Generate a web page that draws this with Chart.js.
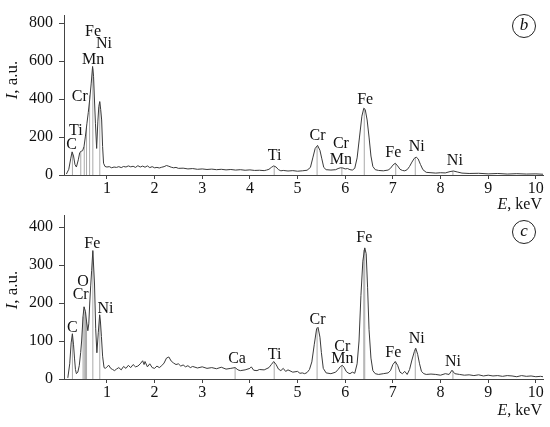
<!DOCTYPE html>
<html>
<head>
<meta charset="utf-8">
<script src="https://cdn.jsdelivr.net/npm/chart.js@4.4.0/dist/chart.umd.min.js"></script>
<style>
  body { margin: 0; background: #fff; }
  #wrap { position: relative; width: 550px; height: 427px; }
  canvas { position: absolute; left: 0; }
  #chartB { top: 0; }
  #chartC { top: 200px; }
</style>
</head>
<body>
<div id="wrap">
  <canvas id="chartB" width="550" height="212"></canvas>
  <canvas id="chartC" width="550" height="227"></canvas>
</div>
<script>
// energy axis ticks (keV)
const xTicks = [1, 2, 3, 4, 5, 6, 7, 8, 9, 10];
const yTicksB = [0, 200, 400, 600, 800];
const yTicksC = [0, 100, 200, 300, 400];

// spectrum (b)
const energyB = [0.15, 0.20, 0.24, 0.27, 0.30, 0.33, 0.36, 0.40, 0.43, 0.46, 0.49, 0.52, 0.55, 0.58, 0.61, 0.64, 0.67, 0.70, 0.72, 0.74, 0.76, 0.785, 0.81, 0.83, 0.85, 0.87, 0.89, 0.91, 0.93, 0.96, 1.00,
  1.05, 1.1, 1.15, 1.2, 1.25, 1.3, 1.35, 1.4, 1.45, 1.5, 1.55, 1.6, 1.65, 1.7, 1.75, 1.8, 1.85, 1.9, 1.95, 2.0, 2.05, 2.1, 2.15, 2.2, 2.25, 2.3, 2.35, 2.4, 2.45, 2.5,
  2.6, 2.7, 2.8, 2.9, 3.0, 3.1, 3.2, 3.3, 3.4, 3.5, 3.6, 3.7, 3.8, 3.9, 4.0, 4.1, 4.2, 4.3, 4.35, 4.4, 4.45, 4.5, 4.55, 4.6, 4.65, 4.7, 4.8, 4.9, 5.0, 5.1, 5.2,
  5.27, 5.32, 5.37, 5.42, 5.47, 5.51, 5.55, 5.6, 5.7, 5.8, 5.85, 5.9, 5.95, 6.0, 6.05, 6.1, 6.15, 6.2, 6.25, 6.3, 6.35, 6.39, 6.42, 6.46, 6.5, 6.54, 6.58, 6.63,
  6.7, 6.8, 6.9, 6.95, 7.0, 7.05, 7.1, 7.15, 7.2, 7.25, 7.3, 7.35, 7.4, 7.45, 7.49, 7.53, 7.58, 7.63, 7.7, 7.8, 7.9, 8.0, 8.1, 8.2, 8.27, 8.35, 8.45, 8.6, 8.8,
  9.0, 9.2, 9.4, 9.6, 9.8, 10.0, 10.15];
const countsB = [5, 30, 85, 122, 100, 55, 42, 80, 118, 125, 128, 150, 205, 270, 330, 400, 480, 572, 520, 390, 270, 140, 280, 360, 387, 345, 290, 150, 62, 45, 42,
  44, 38, 42, 40, 44, 39, 45, 42, 48, 43, 46, 40, 49, 42, 47, 41, 48, 39, 44, 38, 40, 37, 41, 44, 50, 46, 41, 38, 40, 35,
  36, 32, 34, 30, 32, 29, 31, 28, 30, 27, 29, 26, 28, 25, 27, 24, 25, 23, 26, 30, 40, 48, 42, 28, 22, 24, 21, 23, 20, 22, 25,
  40, 90, 140, 156, 130, 85, 40, 28, 26, 28, 34, 38, 37, 32, 34, 28, 26, 35, 90, 200, 310, 352, 345, 290, 200, 100, 45, 28,
  24, 22, 26, 35, 52, 62, 48, 30, 24, 22, 28, 45, 68, 88, 94, 85, 55, 28, 14, 12, 10, 12, 11, 18, 21, 16, 10, 8, 9,
  6, 8, 5, 7, 5, 6, 4];

// spectrum (c)
const energyC = [0.18, 0.22, 0.25, 0.276, 0.30, 0.32, 0.34, 0.36, 0.39, 0.42, 0.45, 0.47, 0.50, 0.52, 0.55, 0.575, 0.60, 0.62, 0.64, 0.66, 0.68, 0.705, 0.72, 0.74, 0.765, 0.79, 0.82, 0.848, 0.865, 0.885, 0.91, 0.94, 0.97, 1.0,
  1.04, 1.08, 1.12, 1.16, 1.2, 1.25, 1.3, 1.35, 1.4, 1.45, 1.5, 1.55, 1.6, 1.65, 1.7, 1.75, 1.78, 1.8, 1.85, 1.9, 1.95, 2.0, 2.05, 2.1, 2.15, 2.2, 2.25, 2.3, 2.35, 2.4, 2.45, 2.5,
  2.55, 2.6, 2.65, 2.7, 2.75, 2.8, 2.9, 3.0, 3.1, 3.2, 3.3, 3.4, 3.5, 3.6, 3.69, 3.75, 3.8, 3.9, 4.0, 4.03, 4.08, 4.15, 4.2, 4.3, 4.4, 4.45, 4.5, 4.55, 4.6, 4.65, 4.7, 4.75, 4.8, 4.9,
  5.0, 5.05, 5.1, 5.15, 5.2, 5.25, 5.3, 5.35, 5.4, 5.43, 5.47, 5.5, 5.54, 5.6, 5.7, 5.8, 5.85, 5.9, 5.94, 5.98, 6.02, 6.06, 6.1, 6.15, 6.2, 6.25, 6.29, 6.33, 6.37, 6.41, 6.44, 6.47, 6.5, 6.54, 6.58, 6.63,
  6.7, 6.8, 6.9, 6.95, 7.0, 7.05, 7.1, 7.15, 7.2, 7.25, 7.3, 7.35, 7.4, 7.45, 7.48, 7.52, 7.56, 7.6, 7.65, 7.7, 7.8, 7.9, 8.0, 8.1, 8.18, 8.24, 8.3, 8.4, 8.5, 8.6, 8.7, 8.8, 8.9,
  9.0, 9.1, 9.2, 9.3, 9.4, 9.5, 9.6, 9.7, 9.8, 9.9, 10.0, 10.1, 10.15];
const countsC = [3, 40, 95, 119, 90, 55, 25, 14, 18, 35, 70, 100, 165, 190, 178, 150, 127, 145, 200, 245, 285, 338, 300, 250, 132, 69, 123, 169, 150, 112, 60, 30, 28, 32,
  36, 28, 25, 22, 26, 30, 24, 33, 28, 36, 30, 38, 32, 34, 40, 48, 38, 46, 32, 40, 30, 28, 34, 30, 35, 42, 55, 58, 47, 42, 38, 40,
  34, 37, 32, 35, 30, 33, 29, 32, 28, 30, 27, 31, 26, 28, 30, 24, 22, 24, 28, 32, 23, 22, 25, 24, 30, 38, 46, 38, 26, 22, 28, 20, 24, 18,
  20, 15, 16, 14, 17, 25, 45, 90, 132, 136, 110, 70, 28, 16, 14, 18, 25, 33, 36, 30, 20, 16, 14, 18, 15, 40, 100, 220, 310, 345, 330, 240, 130, 55, 22, 14,
  12, 14, 16, 22, 38, 46, 36, 18, 14, 20, 12, 25, 50, 72, 81, 65, 40, 20, 14, 12, 13, 12, 10, 14, 12, 23, 14, 12, 10, 11, 9, 11, 8,
  10, 8, 9, 7, 9, 8, 6, 9, 7, 8, 6, 7, 6];

// element marker lines: energy and height
const markE_B = [0.277, 0.452, 0.525, 0.573, 0.637, 0.705, 0.851, 4.51, 5.41, 5.93, 6.40, 7.06, 7.47, 8.26];
const markH_B = [120, 125, 150, 250, 420, 560, 385, 45, 150, 36, 350, 60, 92, 20];
const markE_C = [0.277, 0.50, 0.525, 0.55, 0.573, 0.705, 0.851, 3.69, 4.51, 5.41, 5.93, 6.39, 6.41, 7.06, 7.47, 8.26];
const markH_C = [119, 165, 190, 178, 150, 335, 168, 30, 44, 136, 34, 340, 345, 46, 80, 22];

// element labels
const labTextB = ["C", "Ti", "Cr", "Mn", "Fe", "Ni", "Ti", "Cr", "Cr", "Mn", "Fe", "Fe", "Ni", "Ni"];
const labEB = [0.26, 0.35, 0.43, 0.71, 0.71, 0.94, 4.52, 5.42, 5.91, 5.91, 6.42, 7.01, 7.50, 8.30];
const labYB = [157, 231, 411, 609, 757, 690, 99, 206, 165, 79, 395, 115, 148, 74];
const labTextC = ["C", "Cr", "O", "Fe", "Ni", "Ca", "Ti", "Cr", "Cr", "Mn", "Fe", "Fe", "Ni", "Ni"];
const labEC = [0.276, 0.45, 0.50, 0.695, 0.97, 3.73, 4.52, 5.42, 5.94, 5.94, 6.40, 7.01, 7.50, 8.26];
const labYC = [136, 222, 257, 356, 186, 52, 65, 157, 86, 52, 371, 69, 106, 44];

const serif = "'Liberation Serif', 'Times New Roman', serif";

function drawMixed(ctx, parts, x, y, align) {
  let total = 0;
  parts.forEach(p => { ctx.font = p[1]; total += ctx.measureText(p[0]).width; });
  let cx = align === "right" ? x - total : x - total / 2;
  ctx.textAlign = "left";
  ctx.textBaseline = "middle";
  parts.forEach(p => {
    ctx.font = p[1];
    ctx.fillText(p[0], cx, y);
    cx += ctx.measureText(p[0]).width;
  });
}

function makeChart(id, xs, ys, mE, mH, labT, labE, labY, yMax, yTicks, opt) {
  const spectrum = xs.map((e, i) => ({ x: e, y: ys[i] }));
  const marks = [];
  mE.forEach((e, i) => {
    marks.push({ x: e, y: 0 }, { x: e, y: mH[i] }, { x: e, y: null });
  });

  const textPlugin = {
    id: "texts",
    afterDatasetsDraw(chart) {
      const ctx = chart.ctx;
      const sx = chart.scales.x, sy = chart.scales.y;
      ctx.save();
      ctx.fillStyle = "#111";
      ctx.font = "16px " + serif;
      ctx.textAlign = "center";
      ctx.textBaseline = "middle";
      labT.forEach((t, i) => {
        ctx.fillText(t, sx.getPixelForValue(labE[i]), sy.getPixelForValue(labY[i]));
      });
      // y axis title
      ctx.save();
      ctx.translate(13, opt.yTitleY);
      ctx.rotate(-Math.PI / 2);
      drawMixed(ctx, [["I", "italic 17px " + serif], [", a.u.", "17px " + serif]], 0, 0, "center");
      ctx.restore();
      // x axis title
      drawMixed(ctx, [["E", "italic 16px " + serif], [", keV", "16px " + serif]], 542, opt.xTitleY, "right");
      // panel letter
      ctx.beginPath();
      ctx.strokeStyle = "#222";
      ctx.lineWidth = 1;
      ctx.arc(524, opt.circleY, 11.5, 0, Math.PI * 2);
      ctx.stroke();
      ctx.font = "italic 17px " + serif;
      ctx.textAlign = "center";
      ctx.fillText(opt.letter, 524, opt.circleY);
      ctx.restore();
    }
  };

  return new Chart(id, {
    type: "line",
    data: {
      datasets: [
        { data: marks, borderColor: "#aaaaaa", borderWidth: 1, pointRadius: 0, spanGaps: false, order: 2 },
        { data: spectrum, borderColor: "#3a3a3a", borderWidth: 1, pointRadius: 0, tension: 0, order: 1 }
      ]
    },
    options: {
      responsive: false,
      animation: false,
      devicePixelRatio: 1,
      layout: { padding: { left: 0, right: 7, top: opt.padTop, bottom: 0 } },
      plugins: { legend: { display: false }, tooltip: { enabled: false } },
      scales: {
        x: {
          type: "linear",
          min: 0.1,
          max: 10.15,
          afterBuildTicks: (s) => { s.ticks = xTicks.map(v => ({ value: v })); },
          afterFit: (s) => { s.height = opt.xHeight; },
          grid: { drawOnChartArea: false, drawTicks: true, tickLength: 4, color: "#444" },
          border: { display: true, color: "#444" },
          ticks: { font: { family: serif, size: 16 }, color: "#111", padding: 0, maxRotation: 0 }
        },
        y: {
          min: 0,
          max: yMax,
          afterBuildTicks: (s) => { s.ticks = yTicks.map(v => ({ value: v })); },
          afterFit: (s) => { s.width = 64; },
          grid: { drawOnChartArea: false, drawTicks: true, tickLength: 5, color: "#444" },
          border: { display: true, color: "#444" },
          ticks: { font: { family: serif, size: 16 }, color: "#111", padding: 6 }
        }
      }
    },
    plugins: [textPlugin]
  });
}

makeChart("chartB", energyB, countsB, markE_B, markH_B, labTextB, labEB, labYB, 840, yTicksB,
  { padTop: 5, xHeight: 37, yTitleY: 80, xTitleY: 205, circleY: 26, letter: "b" });
makeChart("chartC", energyC, countsC, markE_C, markH_C, labTextC, labEC, labYC, 430, yTicksC,
  { padTop: 8, xHeight: 48, yTitleY: 90, xTitleY: 211, circleY: 32, letter: "c" });
</script>
</body>
</html>
